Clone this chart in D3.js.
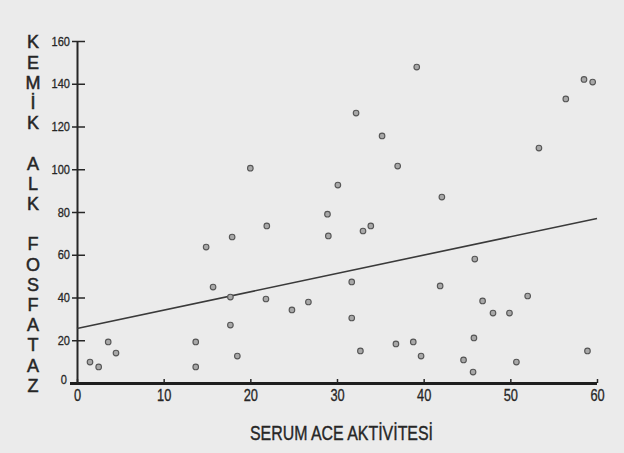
<!DOCTYPE html>
<html>
<head>
<meta charset="utf-8">
<script src="https://cdn.jsdelivr.net/npm/d3@7"></script>
<style>
  body { margin: 0; background: #ebebeb; }
  svg { display: block; }
</style>
</head>
<body>
<div id="chart"></div>
<script>
// serum ACE activity (x) vs bone alkaline phosphatase (y)
let aceValues = [1.5, 2.5, 3.6, 4.5, 13.7, 13.7, 14.9, 15.7, 17.7, 17.7, 17.9, 18.5,
    20, 21.8, 21.9, 24.8, 26.7, 28.9, 29, 30.1, 31.7, 31.7, 32.2, 32.7, 33, 33.9,
    35.2, 36.8, 37, 38.8, 39.2, 39.7, 41.9, 42.1, 44.6, 45.7, 45.8, 45.9, 46.8, 48,
    49.9, 50.7, 52, 53.3, 56.4, 58.5, 58.9, 59.5];
let alpValues = [9.8, 7.5, 19.2, 14, 19.2, 7.5, 63.6, 44.9, 40.2, 27.1, 68.3, 12.6,
    100.5, 39.3, 73.5, 34.2, 37.9, 79, 68.8, 92.6, 47.3, 30.4, 126.3, 15, 71.1, 73.5,
    115.6, 18.3, 101.5, 19.2, 147.8, 12.6, 45.4, 87, 10.8, 5.1, 21.1, 58, 38.4, 32.7,
    32.7, 9.8, 40.7, 109.9, 132.9, 142, 15, 140.8];

// fitted line endpoints
let fitX = [0, 60];
let fitY = [25.5, 77];

let xTicks = [0, 10, 20, 30, 40, 50, 60];
let yTicks = [0, 20, 40, 60, 80, 100, 120, 140, 160];
let yTitleRows = ["K", "E", "M", "İ", "K", "", "A", "L", "K", "", "F", "O", "S", "F", "A", "T", "A", "Z"];
let xTitle = "SERUM ACE AKTİVİTESİ";

let width = 624, height = 453;
let font = "'Liberation Sans', Arial, sans-serif";
let ink = "#262626";

let svg = d3.select("#chart")
    .append("svg")
    .attr("width", width)
    .attr("height", height);

svg.append("rect")
    .attr("width", width)
    .attr("height", height)
    .attr("fill", "#ebebeb");

let x = d3.scaleLinear().domain([0, 60]).range([77, 597]);
let y = d3.scaleLinear().domain([0, 160]).range([383, 41]);

// squeeze text a bit, the print uses a narrow face
function narrow(sel, k) {
    sel.each(function() {
        let w = this.getComputedTextLength();
        d3.select(this)
            .attr("textLength", w * k)
            .attr("lengthAdjust", "spacingAndGlyphs");
    });
}

// y axis, ticks cross the line
let yAxis = svg.append("g")
    .attr("transform", `translate(${x(0)},0)`)
    .call(d3.axisLeft(y).tickValues(yTicks).tickSize(5).tickPadding(2).tickSizeOuter(0));
yAxis.select(".domain").attr("stroke", ink).attr("stroke-width", 2);
yAxis.selectAll(".tick line")
    .attr("x1", -5).attr("x2", 8)
    .attr("stroke", ink).attr("stroke-width", 1.5);
yAxis.selectAll(".tick text")
    .style("font-family", font)
    .style("font-size", "13px")
    .attr("fill", ink)
    .attr("stroke", ink)
    .attr("stroke-width", 0.3)
    .call(narrow, 0.85);
yAxis.selectAll(".tick").filter(d => d == 0).select("line").remove();
yAxis.selectAll(".tick").filter(d => d == 0).select("text").attr("x", -10).attr("dy", "0");

// x axis
let xAxis = svg.append("g")
    .attr("transform", `translate(0,${y(0)})`)
    .call(d3.axisBottom(x).tickValues(xTicks).tickSize(-4).tickPadding(7).tickSizeOuter(0));
xAxis.select(".domain")
    .attr("d", `M70,0.5H${x(60)}`)
    .attr("stroke", "#1e1e1e").attr("stroke-width", 3);
xAxis.selectAll(".tick line").attr("stroke", ink).attr("stroke-width", 1.5);
xAxis.selectAll(".tick text")
    .style("font-family", font)
    .style("font-size", "16px")
    .attr("fill", ink)
    .attr("stroke", ink)
    .attr("stroke-width", 0.3)
    .call(narrow, 0.8);

// regression line
let line = d3.line().x(d => x(d[0])).y(d => y(d[1]));
svg.append("path")
    .datum(d3.zip(fitX, fitY))
    .attr("d", line)
    .attr("fill", "none")
    .attr("stroke", "#3a3a3a")
    .attr("stroke-width", 1.6);

// points
svg.append("g").selectAll("circle")
    .data(d3.zip(aceValues, alpValues))
    .enter()
    .append("circle")
    .attr("cx", d => x(d[0]))
    .attr("cy", d => y(d[1]))
    .attr("r", 2.8)
    .attr("fill", "#a8a8a8")
    .attr("stroke", "#555")
    .attr("stroke-width", 1.1);

// stacked y title
svg.append("g").selectAll("text")
    .data(yTitleRows)
    .enter()
    .append("text")
    .attr("x", 33)
    .attr("y", (d, i) => 42 + i * 20.2)
    .attr("dy", "0.36em")
    .style("text-anchor", "middle")
    .style("font-family", font)
    .style("font-size", "18px")
    .attr("fill", ink)
    .attr("stroke", ink)
    .attr("stroke-width", 0.5)
    .text(d => d);

svg.append("text")
    .attr("x", 250)
    .attr("y", 440)
    .attr("textLength", 183)
    .attr("lengthAdjust", "spacingAndGlyphs")
    .style("font-family", font)
    .style("font-size", "21px")
    .attr("fill", ink)
    .attr("stroke", ink)
    .attr("stroke-width", 0.4)
    .text(xTitle);
</script>
</body>
</html>
